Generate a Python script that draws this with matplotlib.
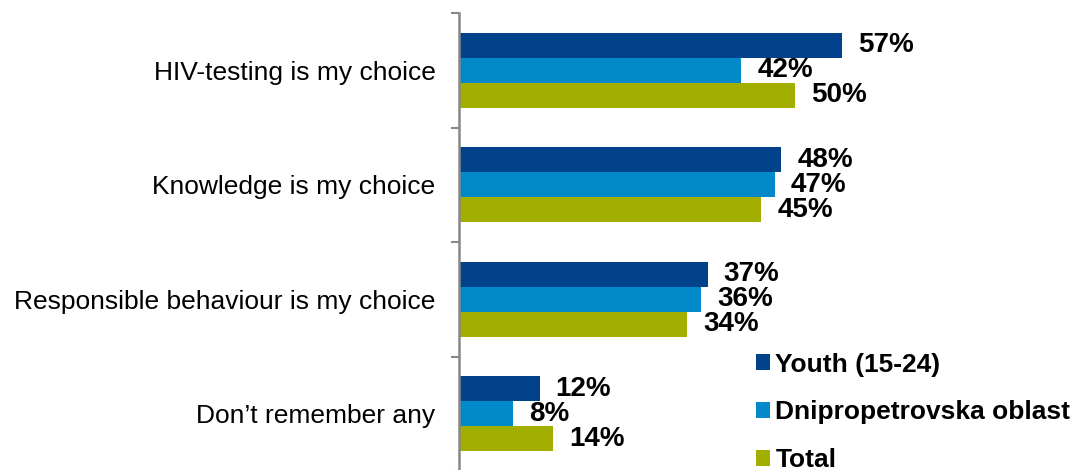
import matplotlib.pyplot as plt
import numpy as np

categories = ["HIV-testing is my choice", "Knowledge is my choice",
              "Responsible behaviour is my choice", "Don\u2019t remember any"]
series_names = ["Youth (15-24)", "Dnipropetrovska oblast", "Total"]
youth = [57, 48, 37, 12]
dnipro = [42, 47, 36, 8]
total = [50, 45, 34, 14]
colors = ["#02428A", "#0189CA", "#A3AF00"]

plt.rcParams['font.family'] = ['Liberation Sans', 'DejaVu Sans']

fig = plt.figure(figsize=(10.77, 4.70), dpi=100)
ax = fig.add_axes([459 / 1077, 1 - 471 / 470, 1 - 459 / 1077, 458 / 470])

y = np.arange(len(categories))
h = 0.218
for i, (vals, name, c) in enumerate(zip([youth, dnipro, total], series_names, colors)):
    pos = y + (i - 1) * h
    ax.barh(pos, vals, height=h, color=c, label=name)
    for p, v in zip(pos, vals):
        ax.text(v + 2.4, p, f"{v}%", va='center', ha='left',
                fontsize=20, fontweight='bold')

ax.set_xlim(0, 92)
ax.set_ylim(len(categories) - 0.5, -0.5)
ax.set_yticks(y)
ax.set_yticklabels(categories, fontsize=19)
ax.set_yticks(np.arange(len(categories) + 1) - 0.5, minor=True)
ax.tick_params(axis='y', which='major', length=0, pad=17)
ax.tick_params(axis='y', which='minor', length=6, width=1.5, color='#888888')
ax.set_xticks([])
for s in ['top', 'right', 'bottom']:
    ax.spines[s].set_visible(False)
ax.spines['left'].set_color('#888888')
ax.spines['left'].set_linewidth(1.8)

leg = ax.legend(loc='upper left', bbox_to_anchor=(745 / 1077, 1 - 342 / 470),
                bbox_transform=fig.transFigure, frameon=False,
                prop={'size': 19, 'weight': 'bold'},
                handlelength=0.55, handleheight=0.55, handletextpad=0.2,
                labelspacing=0.9, borderaxespad=0)

fig.savefig("out.png", dpi=100)
